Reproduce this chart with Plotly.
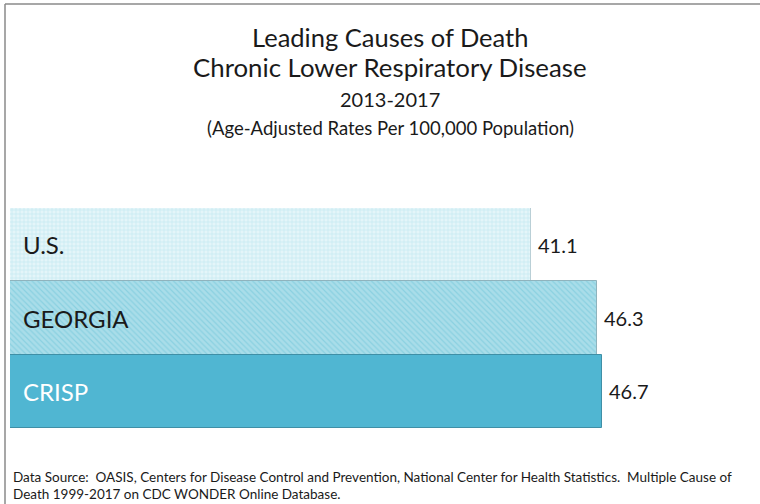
import plotly.graph_objects as go

categories = ["U.S.", "GEORGIA", "CRISP"]
values = [41.1, 46.3, 46.7]
value_labels = ["41.1", "46.3", "46.7"]
title_lines = ["Leading Causes of Death", "Chronic Lower Respiratory Disease", "2013-2017",
               "(Age-Adjusted Rates Per 100,000 Population)"]
source_lines = ["Data Source:  OASIS, Centers for Disease Control and Prevention, National Center for Health Statistics.  Multiple Cause of",
                "Death 1999-2017 on CDC WONDER Online Database."]

W, H = 760, 504
ML, MR, MT, MB = 10, 60, 208, 76
PW, PH = W - ML - MR, H - MT - MB
FONT = "Lato, 'Open Sans', sans-serif"

def px_x(p):
    return (p - ML) / PW

def px_y(p):
    return (H - MB - p) / PH

bg_colors = ["#e4f5f9", "#a9dde9", "#50b6d2"]
fg_colors = ["#a6dbe8", "#6cc3d8", "#50b6d2"]
shapes_pat = ["+", "\\", ""]
text_colors = ["#1a1a1a", "#1a1a1a", "#ffffff"]
line_colors = ["#b9cfd6", "#8fb3bd", "#3f8fa6"]

fig = go.Figure()
for i, (c, v) in enumerate(zip(categories, values)):
    fig.add_trace(go.Bar(
        x=[v], y=[c], orientation="h",
        marker=dict(color=bg_colors[i],
                    line=dict(color=line_colors[i], width=1),
                    pattern=dict(shape=shapes_pat[i], fgcolor=fg_colors[i],
                                 bgcolor=bg_colors[i], size=4, solidity=0.3)),
        hoverinfo="skip", showlegend=False,
    ))

annotations = []
for i, (c, v, lab) in enumerate(zip(categories, values, value_labels)):
    annotations.append(dict(x=0, y=c, xref="x", yref="y", text=c, showarrow=False,
                            xanchor="left", xshift=11,
                            font=dict(family=FONT, size=24, color=text_colors[i])))
    annotations.append(dict(x=v, y=c, xref="x", yref="y", text=lab, showarrow=False,
                            xanchor="left", xshift=5,
                            font=dict(family=FONT, size=20, color="#1a1a1a")))

title_y = [37, 67, 99, 128]
title_sizes = [25.5, 25.8, 20, 18.5]
for t, yy, s in zip(title_lines, title_y, title_sizes):
    annotations.append(dict(x=px_x(390), y=px_y(yy), xref="paper", yref="paper", text=t,
                            showarrow=False, xanchor="center", yanchor="middle",
                            font=dict(family=FONT, size=s, color="#1a1a1a")))

for t, yy in zip(source_lines, [477, 494]):
    annotations.append(dict(x=px_x(11), y=px_y(yy), xref="paper", yref="paper", text=t,
                            showarrow=False, xanchor="left", yanchor="middle",
                            font=dict(family=FONT, size=13.5, color="#1a1a1a")))

shapes = [
    dict(type="line", xref="paper", yref="paper", x0=px_x(5), x1=px_x(W + 5), y0=px_y(4), y1=px_y(4),
         line=dict(color="#8a8a8a", width=1.5)),
    dict(type="line", xref="paper", yref="paper", x0=px_x(5), x1=px_x(5), y0=px_y(4), y1=px_y(H + 5),
         line=dict(color="#8a8a8a", width=1.5)),
]

fig.update_layout(
    width=W, height=H,
    margin=dict(l=ML, r=MR, t=MT, b=MB),
    paper_bgcolor="white", plot_bgcolor="white",
    bargap=0, barmode="overlay",
    xaxis=dict(range=[0, 46.7 * PW / 592], visible=False, fixedrange=True),
    yaxis=dict(categoryorder="array", categoryarray=categories, autorange="reversed",
               visible=False, fixedrange=True),
    annotations=annotations, shapes=shapes,
    font=dict(family=FONT),
)

fig.write_html("out.html")
